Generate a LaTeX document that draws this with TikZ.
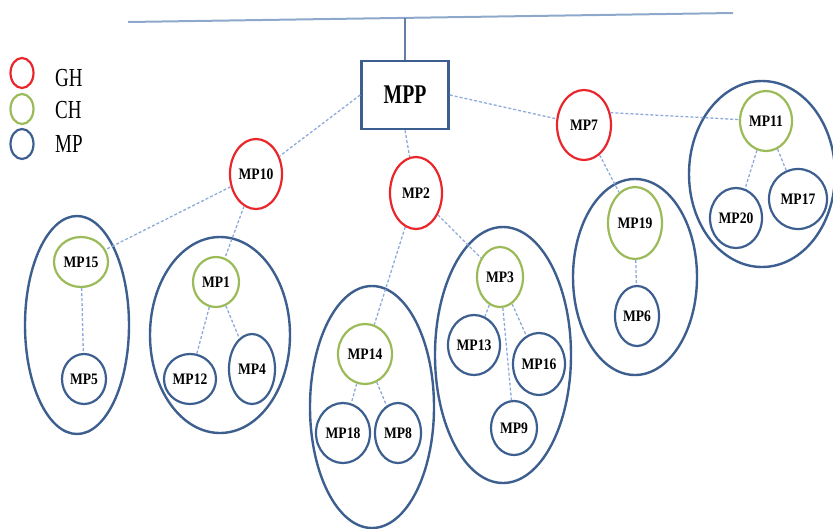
\documentclass[tikz,border=0pt]{standalone}
\usepackage{fontspec}
\setmainfont{Liberation Serif}
\newfontfamily\legendfont[FakeStretch=0.73]{Liberation Serif}
\newfontfamily\mpfont[FakeStretch=0.85]{Liberation Serif}
\usepackage{tikz}
\usetikzlibrary{shapes.geometric}

\definecolor{ghred}{HTML}{E8262B}
\definecolor{chgreen}{HTML}{9BBB59}
\definecolor{mpblue}{HTML}{3D5F8F}
\definecolor{linkblue}{HTML}{8EAADB}
\definecolor{busblue}{HTML}{8DA8CB}

\begin{document}
\begin{tikzpicture}[x=1pt,y=-1pt,
		sz/.style 2 args={minimum width=#1pt,minimum height=#2pt},
		hnode/.style={ellipse,draw,line width=2.2pt,inner sep=0pt,
			font=\mpfont\bfseries\fontsize{16}{16}\selectfont},
		gh/.style={hnode,draw=ghred},
		ch/.style={hnode,draw=chgreen},
		mp/.style={hnode,draw=mpblue},
		grp/.style={ellipse,draw=mpblue,line width=2.4pt,inner sep=0pt},
		link/.style={draw=linkblue,line width=1.3pt,dash pattern=on 3pt off 2pt},
		legtext/.style={anchor=west,inner sep=0pt,
			font=\legendfont\fontsize{26}{26}\selectfont}
	]
	\useasboundingbox (0,0) rectangle (833,528);

	% legend
	\node[gh,sz={23}{30}] (lgh) at (22,73) {};
	\node[ch,sz={23}{30}] (lch) at (22,109) {};
	\node[mp,sz={23}{30}] (lmp) at (22,144) {};
	\node[legtext] (tgh) at (55,78) {GH};
	\node[legtext] (tch) at (55,110) {CH};
	\node[legtext] (tmp) at (55,144) {MP};

	% bus and MPP
	\coordinate (busl) at (128,22);
	\coordinate (busr) at (733,13);
	\coordinate (bus) at (405,18);
	\draw[busblue,line width=2pt] (busl) -- (busr);
	\node[draw=mpblue,line width=2.6pt,minimum width=87pt,minimum height=68pt,
		inner sep=0pt,font=\legendfont\bfseries\fontsize{27}{27}\selectfont]
		(mpp) at (405,95) {MPP};
	\draw[mpblue!80,line width=1.5pt] (bus) -- (mpp.north);

	% clusters
	\node[grp,sz={104}{218}] (g15) at (77,325) {};
	\node[grp,sz={140}{196}] (g1) at (220,335) {};
	\node[grp,sz={124}{242}] (g14) at (372,407) {};
	\node[grp,sz={136}{256}] (g3) at (503,355) {};
	\node[grp,sz={124}{196}] (g19) at (635,277) {};
	\node[grp,sz={146}{186}] (g11) at (762,174) {};

	% group heads
	\node[gh,sz={52}{70}] (mp10) at (256,174) {MP10};
	\node[gh,sz={52}{72}] (mp2) at (416,193) {MP2};
	\node[gh,sz={54}{70}] (mp7) at (584,125) {MP7};

	% cluster heads
	\node[ch,sz={54}{50}] (mp15) at (81,262) {MP15};
	\node[ch,sz={46}{50}] (mp1) at (216,282) {MP1};
	\node[ch,sz={54}{60}] (mp14) at (365,354) {MP14};
	\node[ch,sz={46}{60}] (mp3) at (500,277) {MP3};
	\node[ch,sz={54}{72}] (mp19) at (635,223) {MP19};
	\node[ch,sz={52}{60}] (mp11) at (766,121) {MP11};

	% members
	\node[mp,sz={44}{50}] (mp5) at (84,379) {MP5};
	\node[mp,sz={52}{50}] (mp12) at (190,379) {MP12};
	\node[mp,sz={46}{70}] (mp4) at (252,369) {MP4};
	\node[mp,sz={54}{60}] (mp18) at (343,433) {MP18};
	\node[mp,sz={46}{60}] (mp8) at (398,433) {MP8};
	\node[mp,sz={52}{60}] (mp13) at (474,345) {MP13};
	\node[mp,sz={52}{62}] (mp16) at (539,364) {MP16};
	\node[mp,sz={46}{54}] (mp9) at (514,428) {MP9};
	\node[mp,sz={44}{60}] (mp6) at (637,316) {MP6};
	\node[mp,sz={52}{60}] (mp20) at (736,218) {MP20};
	\node[mp,sz={58}{60}] (mp17) at (798,199) {MP17};

	\path[link]
		(mpp.west) edge (mp10)
		(mpp.south) edge (mp2)
		(mpp.east) edge (mp7)
		(mp10) edge (mp15)
		(mp10) edge (mp1)
		(mp2) edge (mp14)
		(mp2) edge (mp3)
		(mp7.25) edge (mp11)
		(mp7) edge (mp19)
		(mp15) edge (mp5)
		(mp1) edge (mp12)
		(mp1) edge (mp4)
		(mp14) edge (mp18)
		(mp14) edge (mp8)
		(mp3) edge (mp13)
		(mp3) edge (mp16)
		(mp3) edge (mp9)
		(mp19) edge (mp6)
		(mp11) edge (mp20)
		(mp11) edge (mp17)
	;
\end{tikzpicture}
\end{document}
